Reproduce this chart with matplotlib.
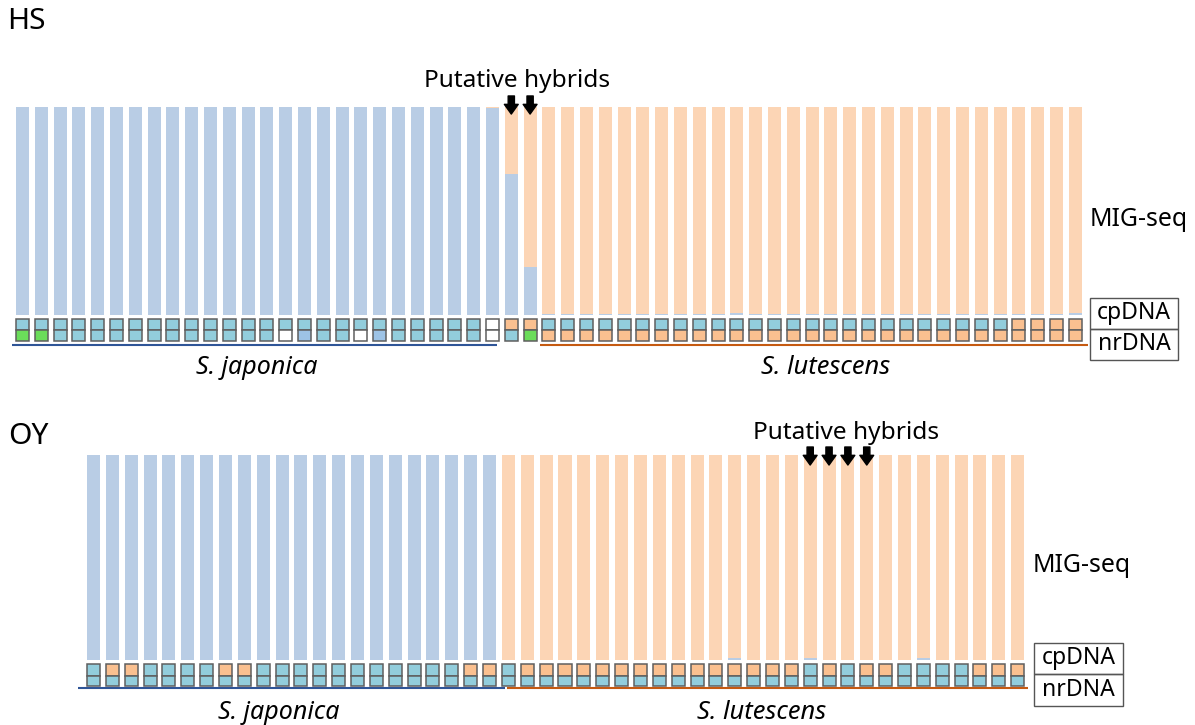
# MIG-seq structure bars with cpDNA / nrDNA haplotype boxes, HS and OY sites
import matplotlib
matplotlib.use('Agg')
import matplotlib.pyplot as plt
from matplotlib.patches import Rectangle

plt.rcParams['font.family'] = ['Noto Sans', 'DejaVu Sans']

# ---- data ----
# blue (S. japonica) fraction of each MIG-seq bar, rest is orange (S. lutescens)
hs_blue = [1.0] * 25 + [0.995] + [0.68, 0.23] + \
          [0.004] * 10 + [0.012] + [0.004] * 17 + [0.012]
# box codes: B light blue, O orange, G green, C cornflower, W white
hs_cp = 'BBBBBBBBBBBBBBBBBBBBBBBBBW' + 'OO' + 'BBBBBBBBBBBBBBBBBBBBBBBBBOOOO'
hs_nr = 'GGBBBBBBBBBBBBWCBBWCBBBBBW' + 'BG' + 'OOOOOOOOOOOOOOOOOOOOOOOOOOOOO'
hs_hybrids = [26, 27]
hs_n_jap = 26

oy_blue = [1.0] * 22 + [0.0] * 12 + [0.008] + [0.0] * 3 + [0.008] + \
          [0.0] * 5 + [0.008] + [0.0] * 5
oy_cp = 'BOOBBBBOOBBBBBBBBBBBOO' + 'BOOOOOOOOOOOOOOOBOBOOBBBBOOO'
oy_nr = 'B' * 50
oy_hybrids = [38, 39, 40, 41]
oy_n_jap = 22

bar_blue = '#B9CDE5'
bar_orange = '#FCD5B5'
box_colors = {'B': '#92CDDC', 'O': '#FAC090', 'G': '#6BDD5A',
              'C': '#9DC3E6', 'W': '#FFFFFF'}
line_blue = '#2F5597'
line_orange = '#C55A11'

fig = plt.figure(figsize=(11.95, 7.25), dpi=100)
ax_hs = fig.add_axes([0, 1 - 362 / 725, 1, 362 / 725])
ax_oy = fig.add_axes([0, 0, 1, 363 / 725])
ax_hs.set_xlim(-22.5 / 18.8, (1195 - 22.5) / 18.8)
ax_hs.set_ylim((315 - 362) / 208, 315 / 208)
ax_oy.set_xlim(-93.5 / 18.86, (1195 - 93.5) / 18.86)
ax_oy.set_ylim((660 - 725) / 205, (660 - 362) / 205)


def draw_panel(ax, blue, cp, nr, hybrids, n_jap, box_y, line_y, jap_line, lut_line,
               jap_x, lut_x, hyb_label, arrow_y, site, site_xy, mig_xy, lab_box):
    n = len(blue)
    x = list(range(n))
    orange = [1 - b for b in blue]
    ax.bar(x, blue, width=0.69, color=bar_blue, linewidth=0)
    ax.bar(x, orange, bottom=blue, width=0.69, color=bar_orange, linewidth=0)

    top0, mid, bot = box_y
    ax.bar(x, [top0 - mid] * n, bottom=mid, width=0.69,
           color=[box_colors[c] for c in cp], edgecolor='#5F5F5F', linewidth=1.1)
    ax.bar(x, [mid - bot] * n, bottom=bot, width=0.69,
           color=[box_colors[c] for c in nr], edgecolor='#5F5F5F', linewidth=1.1)

    ax.plot(jap_line, [line_y, line_y], color=line_blue, lw=1.5, solid_capstyle='butt')
    ax.plot(lut_line, [line_y, line_y], color=line_orange, lw=1.5, solid_capstyle='butt')

    ax.text(jap_x[0], jap_x[1], 'S. japonica', ha='center', va='center', fontsize=18,
            style='italic')
    ax.text(lut_x[0], lut_x[1], 'S. lutescens', ha='center', va='center', fontsize=18.3,
            style='italic')

    # arrows over the putative hybrids
    for h in hybrids:
        ax.annotate('', xy=(h, arrow_y[1]), xytext=(h, arrow_y[0]),
                    arrowprops=dict(arrowstyle='simple,head_length=7,head_width=10,tail_width=4.5',
                                    mutation_scale=1, color='black', shrinkA=0, shrinkB=0))
    ax.text(hyb_label[0], hyb_label[1], 'Putative hybrids', ha='center', va='center',
            fontsize=17.6)

    ax.text(site_xy[0], site_xy[1], site, ha='left', va='center', fontsize=21.5)
    ax.text(mig_xy[0], mig_xy[1], 'MIG-seq', ha='left', va='center', fontsize=17.9)

    x0, x1, yt, ym, yb = lab_box
    for y_lo, y_hi, lab in [(ym, yt, 'cpDNA'), (yb, ym, 'nrDNA')]:
        ax.add_patch(Rectangle((x0, y_lo), x1 - x0, y_hi - y_lo, fill=False,
                               edgecolor='#555555', linewidth=1.0, clip_on=False))
        ax.text((x0 + x1) / 2, (y_lo + y_hi) / 2, lab, ha='center', va='center',
                fontsize=16.5)
    ax.axis('off')


draw_panel(ax_hs, hs_blue, hs_cp, hs_nr, hs_hybrids, hs_n_jap,
           box_y=(-0.019, -0.072, -0.125), line_y=-0.144,
           jap_line=[-0.56, 25.24], lut_line=[27.5, 56.7],
           jap_x=(12.47, -0.25), lut_x=(42.7, -0.25),
           hyb_label=(26.3, 1.125), arrow_y=(1.053, 0.966),
           site='HS', site_xy=(-0.8, 1.409), mig_xy=(56.75, 0.457),
           lab_box=(56.78, 61.46, 0.082, -0.067, -0.216))

draw_panel(ax_oy, oy_blue, oy_cp, oy_nr, oy_hybrids, oy_n_jap,
           box_y=(-0.0195, -0.078, -0.127), line_y=-0.137,
           jap_line=[-0.82, 21.8], lut_line=[21.9, 49.55],
           jap_x=(9.84, -0.254), lut_x=(35.4, -0.254),
           hyb_label=(39.9, 1.105), arrow_y=(1.039, 0.951),
           site='OY', site_xy=(-4.55, 1.088), mig_xy=(49.8, 0.459),
           lab_box=(49.87, 54.59, 0.083, -0.068, -0.224))

fig.savefig('out.png', dpi=100)
